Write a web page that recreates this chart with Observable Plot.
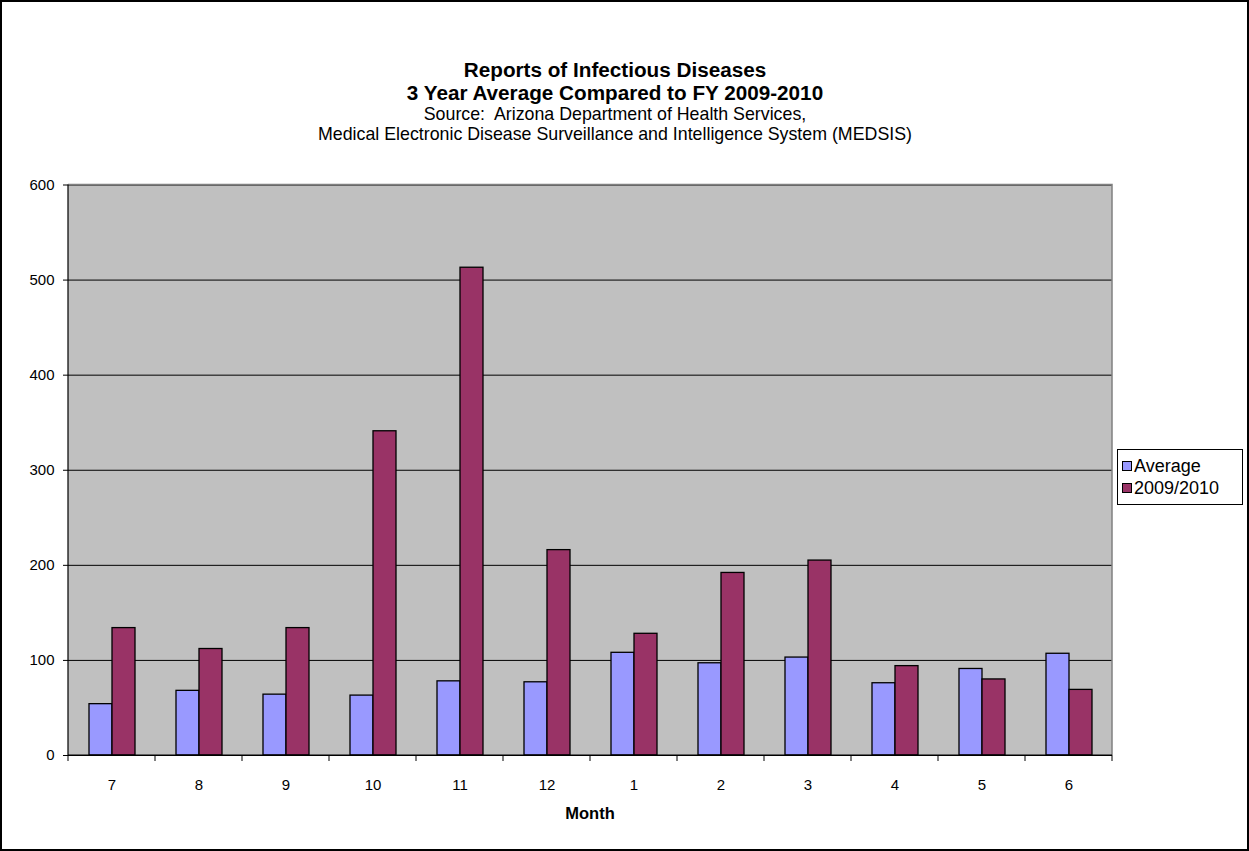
<!DOCTYPE html>
<html>
<head>
<meta charset="utf-8">
<script src="https://cdn.jsdelivr.net/npm/d3@7"></script>
<script src="https://cdn.jsdelivr.net/npm/@observablehq/plot@0.6"></script>
<style>
  html, body { margin: 0; padding: 0; background: #fff; }
  body { font-family: "Liberation Sans", Arial, sans-serif; }
  #page { position: relative; width: 1249px; height: 851px; overflow: hidden; background: #fff; }
  #border { position: absolute; left: 0; top: 0; width: 1249px; height: 851px; box-sizing: border-box; border: 2px solid #000; pointer-events: none; }
  #titles { position: absolute; left: 0; top: 58px; width: 1230px; text-align: center; color: #000; }
  .t1 { font-weight: bold; font-size: 20.7px; line-height: 23px; white-space: nowrap; }
  .t2 { font-size: 17.8px; line-height: 19.5px; white-space: nowrap; }
  .t2.first { margin-top: 1px; }
  #chart { position: absolute; left: 0; top: 170px; }
  #chart svg text { font-size: 15px !important; fill: #000; }
  #xlabel { position: absolute; left: 68px; width: 1044px; top: 803px; line-height: 20px; text-align: center; font-weight: bold; font-size: 16.5px; }
  #legend { position: absolute; left: 1117px; top: 449px; width: 126px; height: 56px; box-sizing: border-box; border: 1px solid #000; background: #fff; padding: 5px 0 0 4px; }
  .lg { display: flex; align-items: center; height: 22px; font-size: 18px; white-space: nowrap; }
  .sw { width: 8px; height: 8px; border: 1px solid #000; margin-right: 2px; }
</style>
</head>
<body>
<div id="page">
  <div id="titles">
    <div class="t1">Reports of Infectious Diseases</div>
    <div class="t1">3 Year Average Compared to FY 2009-2010</div>
    <div class="t2 first">Source:&nbsp; Arizona Department of Health Services,</div>
    <div class="t2">Medical Electronic Disease Surveillance and Intelligence System (MEDSIS)</div>
  </div>
  <div id="chart"></div>
  <div id="xlabel">Month</div>
  <div id="legend"></div>
  <div id="border"></div>
</div>
<script>
// ---- data ----
const months = ["7", "8", "9", "10", "11", "12", "1", "2", "3", "4", "5", "6"];
const seriesNames = ["Average", "2009/2010"];
const averageValues = [54, 68, 64, 63, 78, 77, 108, 97, 103, 76, 91, 107];
const fy2009Values = [134, 112, 134, 341, 513, 216, 128, 192, 205, 94, 80, 69];
const yTicks = [0, 100, 200, 300, 400, 500, 600];
const seriesColors = ["#9999FF", "#993366"];

const rows = [];
months.forEach((m, i) => {
  rows.push({month: m, series: seriesNames[0], value: averageValues[i]});
  rows.push({month: m, series: seriesNames[1], value: fy2009Values[i]});
});

const W = 1249, H = 681;
const chart = Plot.plot({
  width: W,
  height: H,
  marginLeft: 68,
  marginRight: 137,
  marginTop: 14.5,
  marginBottom: 96,
  style: {fontFamily: "'Liberation Sans', Arial, sans-serif", fontSize: "15px", color: "#000", background: "transparent", overflow: "visible"},
  fx: {domain: months, padding: 0, label: null},
  x: {domain: seriesNames, axis: null, paddingInner: 0, paddingOuter: 0.87},
  y: {domain: [0, 600], label: null},
  color: {domain: seriesNames, range: seriesColors},
  marks: [
    Plot.gridY(yTicks, {stroke: "#000", strokeOpacity: 1, strokeWidth: 1}),
    Plot.barY(rows, {fx: "month", x: "series", y: "value", fill: "series", stroke: "#000", strokeWidth: 1.3}),
    Plot.axisY(yTicks, {tickSize: 5, tickPadding: 9, fontSize: 15, label: null, stroke: "#000", color: "#000", tickFormat: d => String(d)}),
    Plot.axisFx({anchor: "bottom", tickSize: 0, tickPadding: 24, fontSize: 15, label: null, color: "#000"})
  ]
});
document.getElementById("chart").appendChild(chart);

// plot background, border and category-boundary ticks, placed with the plot's own scales
const fx = chart.scale("fx");
const y = chart.scale("y");
const svg = d3.select(chart);
svg.selectAll("text").style("font-size", "15px");
const x0 = fx.apply(months[0]);
const x1 = fx.apply(months[months.length - 1]) + fx.bandwidth;
const yTop = y.apply(600), yBot = y.apply(0);
const firstChild = chart.querySelector("g, rect, path, text");
const bg = document.createElementNS("http://www.w3.org/2000/svg", "rect");
bg.setAttribute("x", x0); bg.setAttribute("y", yTop);
bg.setAttribute("width", x1 - x0); bg.setAttribute("height", yBot - yTop);
bg.setAttribute("fill", "#C0C0C0");
chart.insertBefore(bg, firstChild);

const g = svg.append("g").attr("fill", "none");
g.append("path").attr("d", `M${x0},${yTop}H${x1}V${yBot}`).attr("stroke", "#808080").attr("stroke-width", 1.5);
g.append("path").attr("d", `M${x0},${yTop}V${yBot}H${x1}`).attr("stroke", "#000").attr("stroke-width", 1.2);
months.forEach(m => {
  const xx = fx.apply(m);
  g.append("line").attr("x1", xx).attr("x2", xx).attr("y1", yBot).attr("y2", yBot + 6).attr("stroke", "#000");
});
g.append("line").attr("x1", x1).attr("x2", x1).attr("y1", yBot).attr("y2", yBot + 6).attr("stroke", "#000");

// legend from series names and colors
const legend = d3.select("#legend");
seriesNames.forEach((s, i) => {
  const row = legend.append("div").attr("class", "lg");
  row.append("div").attr("class", "sw").style("background", seriesColors[i]);
  row.append("span").text(s);
});
</script>
</body>
</html>
